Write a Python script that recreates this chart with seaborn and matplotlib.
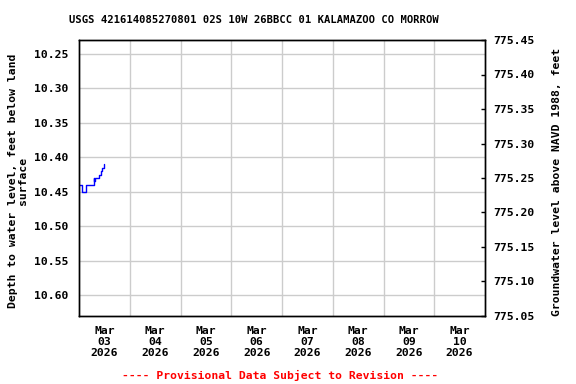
import matplotlib
matplotlib.use("Agg")
import matplotlib.pyplot as plt
import matplotlib.dates as mdates
import seaborn as sns
import pandas as pd
import numpy as np

# ---- data ----
obs_times = ["2026-03-03 00:00", "2026-03-03 01:30", "2026-03-03 03:30",
             "2026-03-03 07:00", "2026-03-03 07:15", "2026-03-03 07:30",
             "2026-03-03 09:30", "2026-03-03 10:15", "2026-03-03 11:00",
             "2026-03-03 11:45"]
depth_ft = [10.44, 10.45, 10.44, 10.43, 10.435, 10.43, 10.425, 10.42, 10.415, 10.41]
datum_ft = 785.68
left_ticks = [10.25, 10.30, 10.35, 10.40, 10.45, 10.50, 10.55, 10.60]
right_ticks = [775.05, 775.10, 775.15, 775.20, 775.25, 775.30, 775.35, 775.40, 775.45]
day_labels = ["Mar\n03\n2026", "Mar\n04\n2026", "Mar\n05\n2026", "Mar\n06\n2026",
              "Mar\n07\n2026", "Mar\n08\n2026", "Mar\n09\n2026", "Mar\n10\n2026"]
title = "USGS 421614085270801 02S 10W 26BBCC 01 KALAMAZOO CO MORROW"
left_label = "Depth to water level, feet below land\nsurface"
right_label = "Groundwater level above NAVD 1988, feet"
footer = "---- Provisional Data Subject to Revision ----"

df = pd.DataFrame({"time": pd.to_datetime(obs_times), "depth": depth_ft})

sns.set_style("white")
plt.rcParams["font.family"] = ["DejaVu Sans Mono"]
plt.rcParams["font.weight"] = "bold"
plt.rcParams["text.color"] = "black"
plt.rcParams["xtick.color"] = "black"
plt.rcParams["ytick.color"] = "black"
plt.rcParams["axes.labelcolor"] = "black"

fig = plt.figure(figsize=(5.76, 3.84), dpi=100)
ax = fig.add_axes([79/576, 1-316/384, (485-79)/576, (316-40)/384])

sns.lineplot(data=df, x="time", y="depth", ax=ax, color="#0000ff",
             linewidth=1.0, drawstyle="steps-post")

t0 = pd.Timestamp("2026-03-03 00:00")
t1 = pd.Timestamp("2026-03-11 00:00")
ax.set_xlim(t0, t1)
ax.set_ylim(10.63, 10.23)

fs = 8.2
ax.set_yticks(left_ticks)
ax.set_yticklabels([f"{v:.2f}" for v in left_ticks], fontsize=fs, fontweight="bold")
noon = [t0 + pd.Timedelta(hours=12) + pd.Timedelta(days=i) for i in range(8)]
mids = [t0 + pd.Timedelta(days=i) for i in range(1, 8)]
ax.set_xticks(noon)
ax.set_xticklabels(day_labels, fontsize=fs, fontweight="bold", linespacing=1.15)
ax.set_xticks(mids, minor=True)
ax.tick_params(axis="x", which="both", length=0, pad=7, colors="black")
ax.tick_params(axis="y", which="both", length=0, pad=8, colors="black")
ax.grid(False)
ax.grid(True, axis="x", which="minor", color="#cccccc", linewidth=1)
ax.grid(True, axis="y", which="major", color="#cccccc", linewidth=1)
ax.set_xlabel("")
ax.set_ylabel("")
for s in ax.spines.values():
    s.set_color("black")
    s.set_linewidth(1.0)

ax2 = ax.twinx()
ax2.set_ylim(datum_ft - 10.63, datum_ft - 10.23)
ax2.set_yticks(right_ticks)
ax2.set_yticklabels([f"{v:.2f}" for v in right_ticks], fontsize=fs, fontweight="bold")
ax2.tick_params(axis="y", direction="in", length=3, width=1, pad=6, colors="black")
ax2.grid(False)
for s in ax2.spines.values():
    s.set_color("black")
    s.set_linewidth(1.0)

fig.text(254/576, 1-20/384, title, ha="center", va="center", fontsize=7.6,
         fontweight="bold", color="black")
fig.text(18/576, 1-181/384, left_label, ha="center", va="center", rotation=90,
         fontsize=fs, fontweight="bold", linespacing=1.0, color="black")
fig.text(557/576, 1-182/384, right_label, ha="center", va="center", rotation=90,
         fontsize=fs, fontweight="bold", color="black")
fig.text(280/576, 1-375/384, footer, ha="center", va="center", color="red",
         fontsize=fs, fontweight="bold")

fig.savefig("out.png", dpi=100)
